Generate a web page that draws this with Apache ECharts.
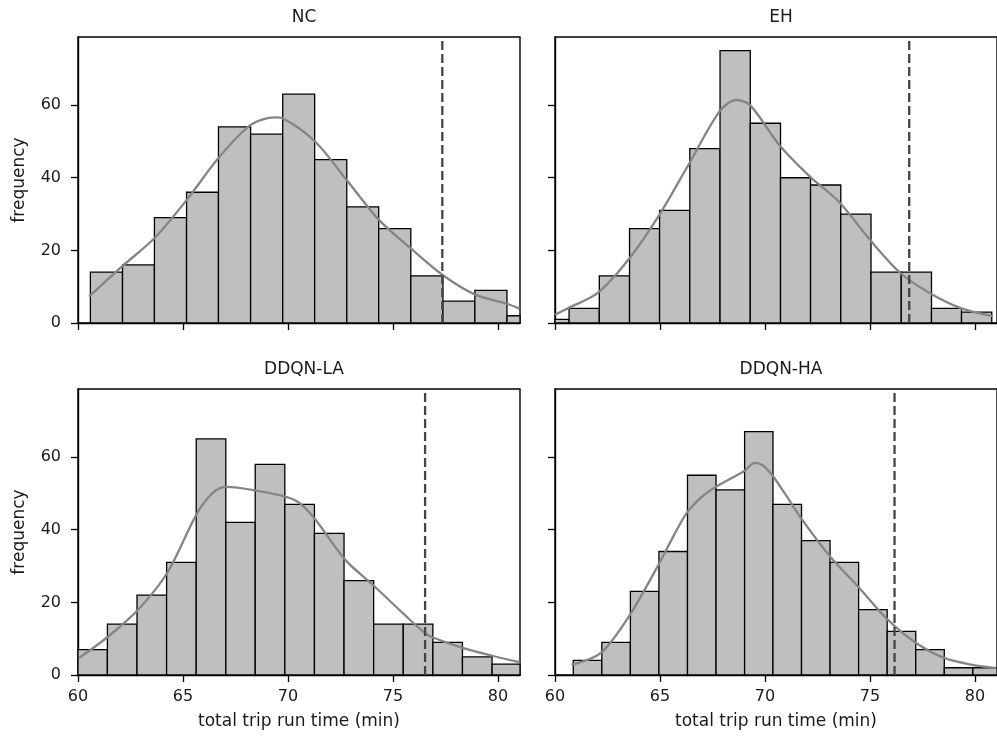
<!DOCTYPE html>
<html>
<head>
<meta charset="utf-8">
<script src="https://cdn.jsdelivr.net/npm/echarts@6/dist/echarts.min.js"></script>
<style>
  html, body { margin: 0; padding: 0; background: #fff; }
  #chart { width: 997px; height: 736px; }
</style>
</head>
<body>
<div id="chart"></div>
<script>
// Distribution of total trip run time for four control strategies

const panelTitles = ['NC', 'EH', 'DDQN-LA', 'DDQN-HA'];
const xTicks = [60, 65, 70, 75, 80];
const yTicks = [0, 20, 40, 60];
const xName = 'total trip run time (min)';
const yName = 'frequency';

// NC
const ncEdges = [60.59, 62.12, 63.64, 65.17, 66.69, 68.22, 69.75, 71.27, 72.80, 74.32, 75.85, 77.38, 78.90, 80.43, 81.95];
const ncCounts = [14, 16, 29, 36, 54, 52, 63, 45, 32, 26, 13, 6, 9, 2];
const ncKdeX = [60.53, 62.14, 63.65, 65.18, 66.67, 68.21, 69.37, 69.76, 71.30, 72.86, 74.33, 75.84, 77.35, 78.92, 80.43, 81.03];
const ncKdeY = [7.3, 15.8, 23.4, 33.9, 45.3, 54.5, 56.6, 56.3, 49.9, 38.9, 28.4, 20.6, 13.3, 7.8, 5.3, 3.9];
const ncLimit = 77.35;

// EH
const ehEdges = [59.23, 60.67, 62.11, 63.55, 64.98, 66.42, 67.86, 69.30, 70.74, 72.17, 73.61, 75.05, 76.49, 77.93, 79.36, 80.80];
const ehCounts = [1, 4, 13, 26, 31, 48, 75, 55, 40, 38, 30, 14, 14, 4, 3];
const ehKdeX = [60.0, 60.63, 62.02, 63.49, 64.97, 66.35, 67.83, 68.62, 69.29, 70.68, 72.14, 73.52, 75.0, 76.46, 77.86, 79.32, 80.85];
const ehKdeY = [2.3, 4.1, 8.2, 17.4, 29.8, 43.5, 58.2, 61.4, 60.0, 49.0, 40.3, 33.4, 22.9, 13.7, 8.2, 4.1, 1.9];
const ehLimit = 76.87;

// DDQN-LA
const laEdges = [59.99, 61.40, 62.81, 64.22, 65.63, 67.04, 68.44, 69.85, 71.26, 72.67, 74.08, 75.49, 76.90, 78.31, 79.72, 81.13];
const laCounts = [7, 14, 22, 31, 65, 42, 58, 47, 39, 26, 14, 14, 9, 5, 3];
const laKdeX = [60.05, 61.44, 62.93, 64.29, 65.67, 66.47, 67.08, 68.56, 69.95, 70.59, 71.33, 72.73, 74.10, 75.55, 76.53, 76.96, 78.35, 79.73, 81.05];
const laKdeY = [4.7, 10.6, 18.4, 28.5, 44.5, 50.4, 51.8, 50.7, 49.0, 47.2, 42.6, 31.7, 24.5, 16.6, 11.5, 10.2, 7.4, 5.3, 3.5];
const laLimit = 76.53;

// DDQN-HA
const haEdges = [60.87, 62.23, 63.59, 64.95, 66.31, 67.67, 69.03, 70.38, 71.74, 73.10, 74.46, 75.82, 77.18, 78.54, 79.90, 81.26];
const haCounts = [4, 9, 23, 34, 55, 51, 67, 47, 37, 31, 18, 12, 7, 2, 2];
const haKdeX = [60.79, 62.17, 63.57, 64.96, 65.63, 66.26, 66.96, 67.65, 69.02, 69.51, 69.90, 70.35, 71.0, 71.74, 73.12, 74.44, 75.82, 77.20, 78.53, 79.89, 81.01];
const haKdeY = [2.8, 6.0, 16.6, 30.7, 38.1, 44.5, 48.9, 51.8, 56.2, 58.4, 57.7, 55.0, 49.5, 43.0, 32.5, 24.3, 15.4, 8.8, 4.7, 2.8, 1.9];
const haLimit = 76.17;

const X_MIN = 60, X_MAX = 81.05;
const Y_MIN = 0, Y_MAX = 78.75;

const panels = [
  { edges: ncEdges, counts: ncCounts, kx: ncKdeX, ky: ncKdeY, limit: ncLimit },
  { edges: ehEdges, counts: ehCounts, kx: ehKdeX, ky: ehKdeY, limit: ehLimit },
  { edges: laEdges, counts: laCounts, kx: laKdeX, ky: laKdeY, limit: laLimit },
  { edges: haEdges, counts: haCounts, kx: haKdeX, ky: haKdeY, limit: haLimit }
];

const FONT = 'DejaVu Sans';
const TEXT = '#1a1a1a';
const gridBoxes = [
  { left: 78, top: 37, width: 442, height: 286 },
  { left: 555, top: 37, width: 442, height: 286 },
  { left: 78, top: 389, width: 442, height: 286 },
  { left: 555, top: 389, width: 442, height: 286 }
];

const grids = [], xAxes = [], yAxes = [], titles = [], series = [];

gridBoxes.forEach((g, i) => {
  const isLeft = i % 2 === 0;
  const isBottom = i >= 2;
  grids.push(Object.assign({ show: true, borderColor: '#000', borderWidth: 1.4, backgroundColor: 'transparent', containLabel: false }, g));
  titles.push({
    text: panelTitles[i],
    left: g.left + g.width / 2,
    top: g.top - 33,
    textAlign: 'center',
    textStyle: { fontFamily: FONT, fontSize: 17, fontWeight: 'normal', color: TEXT }
  });
  xAxes.push({
    type: 'value', gridIndex: i, min: X_MIN, max: X_MAX, interval: 5,
    splitLine: { show: false },
    axisLine: { show: true, onZero: false, lineStyle: { color: '#000', width: 1.4 } },
    axisTick: { show: true, length: 7, customValues: xTicks, lineStyle: { color: '#000', width: 1.3 } },
    axisLabel: { show: isBottom, customValues: xTicks, margin: 14, fontFamily: FONT, fontSize: 16, color: TEXT },
    name: isBottom ? xName : '',
    nameLocation: 'middle', nameGap: 38,
    nameTextStyle: { fontFamily: FONT, fontSize: 17, color: TEXT }
  });
  yAxes.push({
    type: 'value', gridIndex: i, min: Y_MIN, max: Y_MAX, interval: 20,
    splitLine: { show: false },
    axisLine: { show: true, lineStyle: { color: '#000', width: 1.4 } },
    axisTick: { show: true, length: 7, customValues: yTicks, lineStyle: { color: '#000', width: 1.3 } },
    axisLabel: { show: isLeft, customValues: yTicks, margin: 17, fontFamily: FONT, fontSize: 16, color: TEXT },
    name: isLeft ? yName : '',
    nameLocation: 'middle', nameGap: 50, nameRotate: 90,
    nameTextStyle: { fontFamily: FONT, fontSize: 17, color: TEXT }
  });

  const p = panels[i];
  const bins = p.counts.map((c, k) => [p.edges[k], p.edges[k + 1], c]);
  series.push({
    type: 'custom', xAxisIndex: i, yAxisIndex: i, z: 2,
    data: bins,
    renderItem: function (params, api) {
      const a = api.coord([api.value(0), api.value(2)]);
      const b = api.coord([api.value(1), 0]);
      const cs = params.coordSys;
      const rect = echarts.graphic.clipRectByRect(
        { x: a[0], y: a[1], width: b[0] - a[0], height: b[1] - a[1] },
        { x: cs.x, y: cs.y, width: cs.width, height: cs.height }
      );
      if (!rect) return null;
      return {
        type: 'rect', shape: rect,
        style: { fill: '#bfbfbf', stroke: '#000', lineWidth: 1.3 }
      };
    }
  });
  series.push({
    type: 'line', xAxisIndex: i, yAxisIndex: i, z: 3,
    data: p.kx.map((x, k) => [x, p.ky[k]]),
    smooth: 0.3, showSymbol: false, symbol: 'none', clip: true,
    lineStyle: { color: '#858585', width: 2.3 }
  });
  series.push({
    type: 'line', xAxisIndex: i, yAxisIndex: i, z: 4,
    data: [[p.limit, Y_MIN], [p.limit, Y_MAX]],
    showSymbol: false, symbol: 'none',
    lineStyle: { color: '#444', width: 2.3, type: [9, 4] }
  });
});

const chart = echarts.init(document.getElementById('chart'), null, { renderer: 'canvas' });
chart.setOption({
  animation: false,
  backgroundColor: '#fff',
  title: titles,
  grid: grids,
  xAxis: xAxes,
  yAxis: yAxes,
  series: series
});
</script>
</body>
</html>
